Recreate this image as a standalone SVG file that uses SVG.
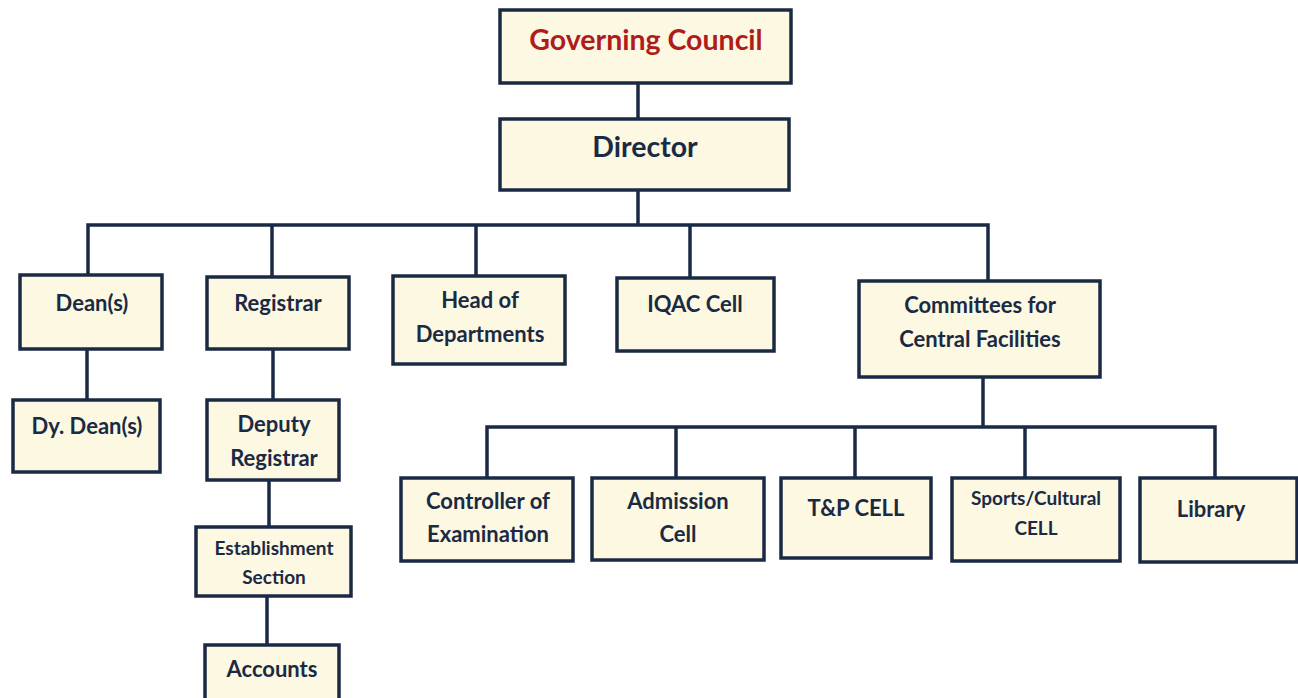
<svg xmlns="http://www.w3.org/2000/svg" width="1298" height="698" viewBox="0 0 1298 698">
<style>
.box{fill:#fdf8e1;stroke:#1b2a44;stroke-width:3.5}
.t{font-family:Lato,"Open Sans","Liberation Sans",sans-serif;font-weight:700;fill:#1b2a44;text-anchor:middle;font-size:22px}
.big{font-size:28.5px}
.sm{font-size:19px}
.red{fill:#b01c1c}
.c{stroke:#1b2a44;stroke-width:3.5;fill:none}
</style>
<rect width="1298" height="698" fill="#ffffff"/>
<g id="connectors">
<path class="c" d="M638 83V119"/>
<path class="c" d="M638 190V225"/>
<path class="c" d="M88 275V225H988V281"/>
<path class="c" d="M272 225V277"/>
<path class="c" d="M476 225V276"/>
<path class="c" d="M690 225V278"/>
<path class="c" d="M87 349V400"/>
<path class="c" d="M273 349V400"/>
<path class="c" d="M269 480V527"/>
<path class="c" d="M267 596V645"/>
<path class="c" d="M983 377V427"/>
<path class="c" d="M487 478V427H1215V478"/>
<path class="c" d="M676 427V478"/>
<path class="c" d="M855 427V478"/>
<path class="c" d="M1025 427V478"/>
</g>
<g id="governing-council"><rect class="box" x="500" y="10" width="291" height="73"/><text class="t big red" x="646" y="50">Governing Council</text></g>
<g id="director"><rect class="box" x="500" y="119" width="289" height="71"/><text class="t big" x="645" y="157">Director</text></g>
<g id="deans"><rect class="box" x="20" y="275" width="142" height="74"/><text class="t" x="92" y="311">Dean(s)</text></g>
<g id="registrar"><rect class="box" x="207" y="277" width="142" height="72"/><text class="t" x="278" y="311">Registrar</text></g>
<g id="hod"><rect class="box" x="393" y="276" width="172" height="88"/><text class="t" x="480" y="308">Head of</text><text class="t" x="480" y="342">Departments</text></g>
<g id="iqac"><rect class="box" x="617" y="278" width="157" height="73"/><text class="t" x="695" y="312">IQAC Cell</text></g>
<g id="committees"><rect class="box" x="859" y="281" width="241" height="96"/><text class="t" x="980" y="313">Committees for</text><text class="t" x="980" y="347">Central Facilities</text></g>
<g id="dy-deans"><rect class="box" x="13" y="400" width="147" height="72"/><text class="t" x="87" y="434">Dy. Dean(s)</text></g>
<g id="deputy-registrar"><rect class="box" x="207" y="400" width="132" height="80"/><text class="t" x="274" y="432">Deputy</text><text class="t" x="274" y="466">Registrar</text></g>
<g id="establishment"><rect class="box" x="196" y="527" width="155" height="69"/><text class="t sm" x="274" y="555">Establishment</text><text class="t sm" x="274" y="584">Section</text></g>
<g id="accounts"><rect class="box" x="205" y="645" width="134" height="60"/><text class="t" x="272" y="677">Accounts</text></g>
<g id="controller"><rect class="box" x="401" y="478" width="172" height="83"/><text class="t" x="488" y="509">Controller of</text><text class="t" x="488" y="542">Examination</text></g>
<g id="admission"><rect class="box" x="592" y="478" width="172" height="82"/><text class="t" x="678" y="509">Admission</text><text class="t" x="678" y="542">Cell</text></g>
<g id="tp-cell"><rect class="box" x="781" y="478" width="150" height="80"/><text class="t" x="856" y="516">T&amp;P CELL</text></g>
<g id="sports"><rect class="box" x="952" y="478" width="168" height="83"/><text class="t sm" x="1036" y="505">Sports/Cultural</text><text class="t sm" x="1036" y="535">CELL</text></g>
<g id="library"><rect class="box" x="1140" y="478" width="157" height="84"/><text class="t" x="1211" y="517">Library</text></g>
</svg>
